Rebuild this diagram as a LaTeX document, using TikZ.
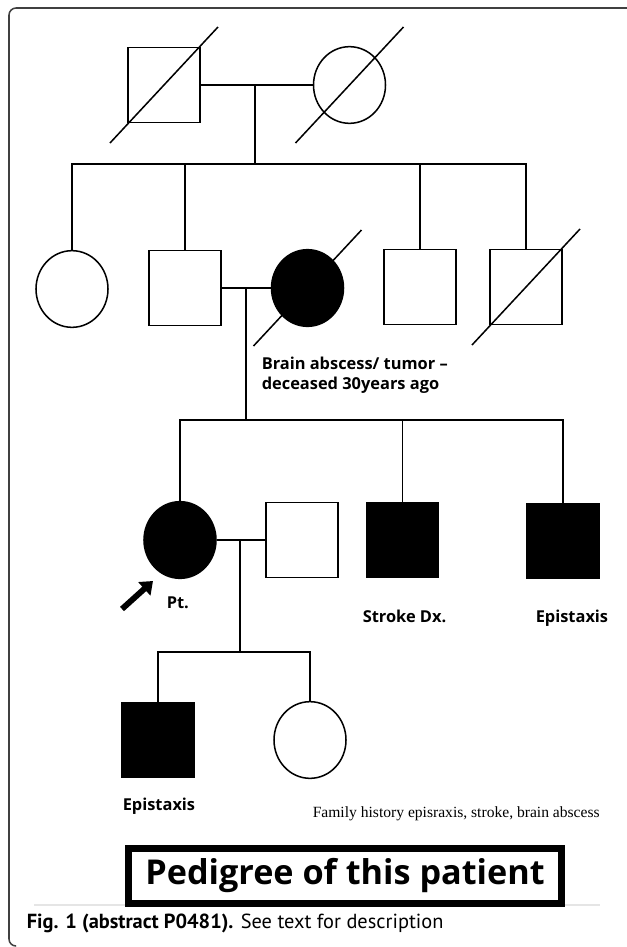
\documentclass[tikz,border=0pt]{standalone}
\usepackage{fontspec}
\setmainfont{Open Sans}
\newfontfamily\serifnote{Liberation Serif}
\newfontfamily\capfont{PT Sans}
\usetikzlibrary{positioning,shapes.geometric,arrows.meta}

% slash through a deceased person
\newcommand\deadmark[1]{\draw (#1.center) ++(-54,58) -- ++(108,-116);}

\begin{document}
\begin{tikzpicture}[x=0.03cm,y=-0.03cm,line width=1.3pt,
    every node/.style={inner sep=0pt},
    male/.style={draw,rectangle,minimum width=2.16cm,minimum height=2.25cm},
    female/.style={draw,ellipse,minimum width=2.16cm,minimum height=2.3cm},
    affected/.style={fill=black},
    note/.style={font=\bfseries\fontsize{14}{17.5}\selectfont}]
  \useasboundingbox (0,0) rectangle (627,947);
  %%%%% FRAME
  \draw[black!75,line width=1.3pt,rounded corners=6pt] (627,8) -- (9,8) -- (9,946) -- (16,946);
  %%%%% GENERATION I
  \node[male] (gf) at (164,85) {};
  \node[female] (gm) at (349.5,85) {};
  %%%%% GENERATION II
  \node[female] (a1) at (72,289) {};
  \node[male] (a2) at (185,288) {};
  \node[female,affected] (mo) at (307.5,288) {};
  \node[male] (a4) at (420,287) {};
  \node[male] (a5) at (526,287) {};
  %%%%% GENERATION III
  \node[female,affected] (pt) at (180,540) {};
  \node[male] (sp) at (302,540) {};
  \node[male,affected] (b3) at (402.5,540) {};
  \node[male,affected] (b4) at (563,541) {};
  %%%%% GENERATION IV
  \node[male,affected] (c1) at (158,740) {};
  \node[female] (c2) at (310,740) {};
  % deceased
  \foreach \n in {gf,gm,mo,a5} {\deadmark{\n}}
  %%%%% LINES OF DESCENT
  \coordinate (m1) at (255,85);
  \coordinate (s1) at (255,164);
  \draw (gf) -- (gm);
  \draw (m1) -- (s1);
  \draw (a1.north) |- (s1) -| (a5.north);
  \draw (a2.north) -- (a2.north |- s1);
  \draw (a4.north) -- (a4.north |- s1);
  \coordinate (m2) at (246,288);
  \coordinate (s2) at (246,420);
  \draw (a2) -- (mo);
  \draw (m2) -- (s2);
  \draw (pt.north) |- (s2) -| (b4.north);
  \draw (b3.north) -- (b3.north |- s2);
  \coordinate (m3) at (240,540);
  \coordinate (s3) at (240,652);
  \draw (pt) -- (sp);
  \draw (m3) -- (s3);
  \draw (c1.north) |- (s3) -| (c2.north);
  %%%%% TEXTS
  \node[note,anchor=north west,align=left] (brain) at (261,356) {Brain abscess/ tumor –\\deceased 30years ago};
  \node[note,anchor=base west] (ptl) at (166,608) {Pt.};
  \node[note,anchor=base west] (stl) at (362,622) {Stroke Dx.};
  \node[note,anchor=base west] (epl) at (535,622) {Epistaxis};
  \node[note,anchor=base west] (epl2) at (122,810) {Epistaxis};
  \node[anchor=base west,font=\serifnote\fontsize{13.3}{15}\selectfont] (hist) at (312,817) {Family history episraxis, stroke, brain abscess};
  % proband arrow
  \coordinate (tail) at (122,609);
  \coordinate (tip) at (153,581);
  \draw[line width=5pt,-{Triangle[length=10pt,width=15pt]}] (tail) -- (tip);
  %%%%% TITLE BOX
  \draw[black!10] (34,905) -- (600,905);
  \node[draw,fill=white,line width=6pt,minimum width=12.99cm,minimum height=1.65cm,
    font=\bfseries\fontsize{29.2}{31}\selectfont] (title) at (345,876) {Pedigree of this patient};
  %%%%% CAPTION
  \node[anchor=base west,font=\capfont\fontsize{17.4}{20}\selectfont] (cap) at (26,928)
    {\textbf{Fig. 1 (abstract P0481).} See text for description};
\end{tikzpicture}
\end{document}
